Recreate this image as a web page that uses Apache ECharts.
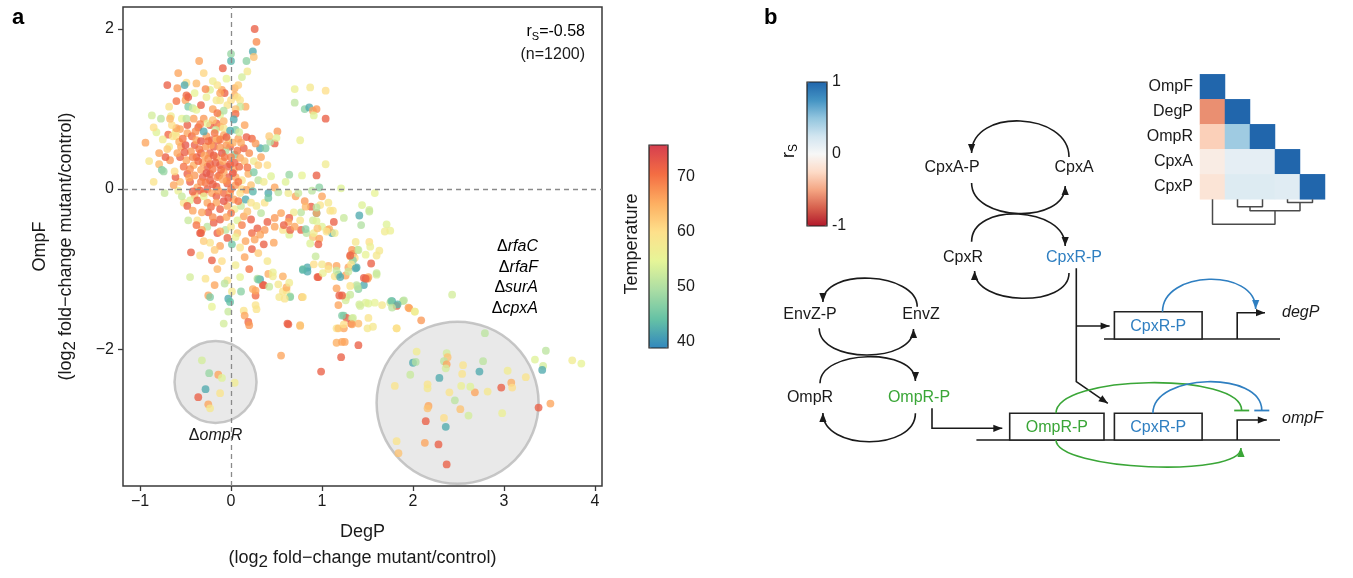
<!DOCTYPE html>
<html>
<head>
<meta charset="utf-8">
<script src="https://cdn.jsdelivr.net/npm/echarts@6/dist/echarts.min.js"></script>
<style>
  html, body { margin: 0; padding: 0; background: #fff; }
  #chart { width: 1353px; height: 578px; }
</style>
</head>
<body>
<div id="chart"></div>
<script>
// ---- panel a: DegP vs OmpF, [degP, ompF, temperature] ----
const upperPts = [
  [0.26,2.0,72],[0.28,1.84,68],[0.24,1.72,42],[0.25,1.65,63],[0.0,1.69,48],[0.0,1.6,43],[0.17,1.6,47],[-0.35,1.6,66],
  [-0.09,1.51,72],[0.18,1.47,58],[-0.58,1.45,66],[0.12,1.40,53],[-0.70,1.30,72],[-0.59,1.26,67],[-0.49,1.33,60],
  [-0.38,1.32,64],[-0.51,1.30,42],[-0.23,1.24,54],[-0.10,1.24,66],[-0.07,1.20,72],[0.04,1.17,65],[-0.12,1.11,58],
  [0.0,1.11,60],[-0.49,1.17,71],[-0.50,1.11,66],[-0.47,1.03,46],[-0.42,1.01,52],[-0.38,0.99,55],[0.10,1.11,59],
  [0.16,1.03,65],[-0.68,1.03,59],[-0.16,1.11,58],[-0.27,1.15,56],[-0.47,1.15,72],[-0.15,1.30,59],[-0.12,1.20,66],
  [0.04,1.26,65],[0.07,1.15,59],[0.1,1.03,52],[-0.04,1.05,59],[-0.12,0.93,54],[0.70,1.25,56],[0.87,1.27,58],
  [1.04,1.23,60],[0.70,1.08,51],[0.81,1.0,47],[0.86,1.02,42],[0.90,0.98,66],[0.94,1.0,67],[0.91,0.92,54],[1.04,0.88,72],
  [-0.30,1.45,61],[-0.20,1.35,57],[-0.05,1.38,55],[0.08,1.30,62],[-0.28,1.25,68],[-0.40,1.20,55],[-0.60,1.10,70],
  [-0.33,1.05,72],[-0.20,1.00,66],[0.05,1.00,63],[-0.08,0.98,50]
];
const corePts = [
  [-0.87,0.92,53],[-0.77,0.88,51],[-0.66,0.91,57],[-0.54,0.88,55],[-0.41,0.88,66],[-0.30,0.88,67],[0.05,0.94,71],
  [0.03,0.87,42],[-0.23,0.80,72],[-0.16,0.82,71],[-0.12,0.78,66],[-0.08,0.76,58],[0.05,0.74,46],[-0.48,0.80,72],
  [-0.36,0.77,72],[-0.56,0.75,66],[-0.69,0.68,71],[-0.60,0.66,60],[0.51,0.72,67],[0.48,0.57,72],[0.43,0.59,50],
  [0.32,0.51,42],[0.38,0.51,46],[0.23,0.63,71],[0.27,0.57,67],[0.50,0.64,54],[0.76,0.61,56],
  [-0.94,0.58,66],[-0.85,0.09,59],[-0.73,-0.05,52],[-0.79,0.31,64],[-0.76,0.24,46],[-0.74,0.22,48],
  [-0.40,0.55,72],[-0.28,0.53,67],[-0.33,0.45,72],[-0.23,0.45,71],[-0.16,0.40,66],[-0.14,0.61,72],[-0.01,0.53,72],
  [0.14,0.51,72],[-0.06,0.48,50],[0.04,0.43,46],[-0.12,0.30,72],[-0.04,0.28,72],[0.03,0.24,66],[0.09,0.28,71],
  [-0.26,0.28,72],[-0.33,0.24,66],[-0.41,0.30,65],[-0.49,0.36,66],[-0.56,0.40,72],[-0.59,0.45,66],[-0.67,0.36,67],
  [-0.72,0.40,72],[-0.45,0.09,72],[-0.37,0.02,66],[-0.23,0.11,72],[-0.16,0.03,72],[-0.04,0.07,72],[0.05,0.05,67],
  [-0.08,-0.05,71],[-0.01,-0.05,66],[0.12,0.11,59],[0.19,0.19,65],[0.25,0.21,46],[0.30,0.11,51],[0.36,0.09,57],
  [0.44,0.16,54],[0.48,0.02,66],[0.41,-0.05,42],[0.52,-0.04,51],[0.60,0.09,54],[0.63,-0.05,57],
  [-0.48,0.70,66],[-0.43,0.66,71],[-0.38,0.61,66],[-0.27,0.66,67],[-0.21,0.61,72],[-0.16,0.63,63],[-0.08,0.67,66],
  [-0.03,0.61,59],[0.08,0.63,66],[0.17,0.65,72],[-0.19,0.53,72],[-0.12,0.52,67],[-0.31,0.33,66],[-0.23,0.31,72],
  [-0.17,0.33,72],[-0.09,0.35,66],[-0.01,0.31,72],[0.04,0.33,72],[0.10,0.39,66],[-0.38,0.40,72],[-0.29,0.42,66],
  [-0.48,0.19,72],[-0.40,0.17,67],[-0.31,0.15,72],[-0.23,0.19,72],[-0.13,0.17,72],[-0.08,0.21,66],[-0.02,0.15,72],
  [0.05,0.15,66],[-0.56,0.09,63],[-0.61,0.15,72],[-0.34,-0.02,72],[-0.26,0.0,72],[-0.21,-0.05,66],[-0.16,-0.09,72],
  [0.03,-0.13,66],[-0.03,-0.11,72],
  [-0.26,0.82,55],[-0.55,0.53,66],[-0.64,0.66,59],[-0.68,0.53,57],[-0.57,0.59,65],[-0.17,0.74,52],[-0.01,0.73,42],
  [0.09,0.71,53],[-0.30,0.72,42],[-0.61,0.71,58],[-0.49,0.88,51],[-0.60,0.76,66],[-0.75,0.62,57],[-0.82,0.71,54],
  [-0.20,0.25,70],[-0.10,0.45,73],[0.00,0.40,69],[-0.25,0.38,68],[-0.35,0.50,70],[-0.15,0.15,69],[-0.05,0.55,67],
  [0.02,0.20,73],[-0.28,0.08,70],[-0.42,0.40,69],[-0.18,0.70,70],[-0.50,0.55,73],[-0.05,0.10,68],[0.07,0.48,70],
  [-0.33,0.60,73],[-0.45,0.25,68],[-0.12,0.62,69],[-0.22,0.55,66],[0.00,0.00,70],[-0.52,0.28,70],[0.15,0.35,64],
  [0.20,0.45,68],[-0.62,0.22,60],[-0.70,0.50,62],[-0.40,-0.08,63],[0.12,0.00,61],[-0.08,0.85,64],[0.25,0.35,57],
  [0.30,0.30,62],[-0.58,-0.02,56],[-0.65,0.80,60],
  [-0.36,0.35,71],[-0.19,0.42,72],[-0.07,0.40,70],[-0.27,0.20,73],[-0.11,0.24,71],[-0.33,0.09,69],[-0.20,0.06,72],
  [-0.09,0.12,66],[0.08,0.09,70],[-0.44,0.47,67],[-0.25,0.60,71],[-0.05,0.65,72],[0.11,0.58,66],[-0.39,0.72,68],
  [-0.53,0.63,70],[-0.46,0.14,66],[-0.14,-0.02,67],[-0.30,-0.05,71],[0.02,0.58,65],[-0.20,0.86,63],[-0.51,0.46,72],
  [0.18,0.27,70],[0.22,0.05,63],[-0.63,0.05,66],[-0.42,-0.03,72],[-0.34,0.81,69],[0.15,0.80,66],[-0.15,0.95,70],
  [0.33,0.40,66],[0.40,0.30,60],[-0.67,0.88,64],[-0.79,0.45,66],[-0.85,0.77,60],[-0.90,0.35,58],[0.42,0.66,62]
];
const lowerPts = [
  [-0.45,-0.14,54],[-0.52,-0.17,59],[-0.54,-0.09,52],[-0.37,-0.14,72],[-0.26,-0.17,66],[-0.30,-0.09,55],[-0.16,-0.17,66],
  [-0.12,-0.25,72],[-0.04,-0.21,66],[0.04,-0.25,57],[0.11,-0.21,52],[0.16,-0.13,42],[0.22,-0.17,59],[0.14,-0.34,66],
  [0.22,-0.38,72],[0.33,-0.30,51],[0.28,-0.21,58],[0.37,-0.17,59],[0.41,-0.11,45],[0.10,-0.05,60],[0.17,-0.01,66],
  [0.24,-0.03,43],[-0.48,-0.21,72],[-0.42,-0.27,66],[-0.47,-0.39,52],[-0.37,-0.39,59],[-0.26,-0.47,51],[-0.32,-0.51,66],
  [-0.15,-0.55,72],[-0.06,-0.51,51],[0.0,-0.47,58],[0.07,-0.39,54],[0.07,-0.55,63],[-0.04,-0.61,72],[-0.12,-0.53,66],
  [-0.19,-0.42,72],[-0.12,-0.38,72],[-0.25,-0.29,72],[-0.32,-0.29,66],[-0.34,-0.55,72],[-0.23,-0.67,59],[-0.12,-0.71,66],
  [0.01,-0.69,45],[0.10,-0.73,59],[0.16,-0.65,66],[0.23,-0.75,72],[0.36,-0.69,72],[0.47,-0.67,66],[0.40,-0.41,72],
  [0.29,-0.49,72],[0.23,-0.55,71],[0.32,-0.57,66],[0.37,-0.51,67],[0.48,-0.47,66],
  [-0.44,-0.79,72],[-0.34,-0.83,59],[-0.45,-1.10,53],[-0.33,-0.55,72],[-0.28,-1.12,59],[-0.21,-0.89,72],[-0.18,-1.2,66],
  [-0.25,-1.33,66],[-0.23,-1.35,46],[-0.21,-1.47,55],[-0.08,-1.68,53],[-0.04,-1.14,59],[-0.07,-1.18,51],[-0.03,-1.37,42],
  [-0.01,-1.41,44],[-0.03,-1.53,52],[0.01,-1.28,58],[0.11,-1.28,47],[0.14,-1.52,59],[0.15,-1.58,66],[0.19,-1.66,71],
  [0.20,-1.70,67],[0.28,-1.50,59],[0.27,-1.33,71],[0.24,-1.25,65],[0.29,-1.12,51],[0.32,-1.13,42],[0.35,-1.20,72],
  [0.41,-1.06,65],[0.46,-1.04,56],[0.53,-1.35,58],[0.61,-1.27,59],[0.65,-1.34,50],[0.78,-1.35,65],[0.63,-1.69,72],
  [0.76,-1.71,63],[0.55,-2.08,66],[0.99,-2.28,72],
  [-0.10,-0.90,60],[0.05,-0.95,57],[0.15,-0.85,66],[0.30,-0.80,62],[-0.15,-1.00,64],[0.10,-1.10,55],[0.20,-1.00,70],
  [0.40,-0.90,58],[-0.30,-0.65,62],[0.00,-0.30,70],[-0.20,-0.35,68],[0.12,-0.45,69],[-0.08,-0.15,73],[0.05,-0.60,56],
  [-0.22,-0.22,71],[-0.05,-0.35,66],[0.08,-0.15,70],[0.18,-0.28,63],[-0.38,-0.45,70],[0.26,-0.63,66],[-0.18,-0.76,62]
];
const tailPts = [
  [1.04,0.31,57],[0.94,0.17,72],[0.78,0.17,55],[0.64,0.18,48],[0.97,0.02,47],[1.21,0.01,54],[1.58,-0.05,55],[0.89,-0.02,51],
  [1.41,-0.33,42],[1.44,-0.20,54],[1.52,-0.26,53],[1.43,-0.45,50],[1.71,-0.44,54],[1.75,-0.52,56],[1.69,-0.53,57],
  [1.52,-0.66,60],[1.37,-0.66,58],[1.34,-0.81,72],[1.39,-0.76,51],[0.71,-0.09,66],[0.74,-0.05,52],[0.81,-0.15,67],
  [0.88,-0.22,72],[0.94,-0.30,42],[1.00,-0.09,66],[1.07,-0.17,58],[1.12,-0.27,59],[0.77,-0.29,51],[0.69,-0.29,57],
  [0.64,-0.36,72],[0.55,-0.30,66],[0.48,-0.36,67],[0.57,-0.51,59],[0.64,-0.57,54],[0.77,-0.51,72],[0.83,-0.55,51],
  [0.90,-0.60,63],[0.97,-0.62,66],[1.06,-0.51,66],[1.11,-0.55,42],[1.00,-0.47,54],[1.52,-0.28,52],[1.53,-0.72,56],
  [1.63,-0.77,58],[1.60,-0.83,58],[1.33,-0.76,67],[1.31,-0.84,65],[1.36,-0.86,60],[1.34,-0.89,47],[1.54,-0.93,72],
  [1.38,-0.98,42],[1.29,-0.98,66],[1.16,-0.96,66],[1.18,-1.07,42],[1.14,-1.09,59],[1.26,-1.08,66],[1.29,-1.03,52],
  [1.46,-1.11,72],[1.50,-1.12,67],[1.46,-1.20,42],[1.38,-1.20,51],[1.40,-1.25,47],[1.60,-1.07,53],[1.16,-1.24,66],
  [1.19,-1.33,72],[1.27,-1.35,59],[1.26,-1.39,53],[1.18,-1.45,66],[1.24,-1.58,46],[1.27,-1.61,72],[1.33,-1.62,51],
  [1.32,-1.68,72],[1.40,-1.68,64],[1.16,-1.74,59],[1.24,-1.74,66],[1.50,-1.74,58],[1.16,-1.92,65],[1.22,-1.91,66],
  [1.40,-1.95,72],[1.41,-1.44,53],[1.48,-1.42,54],[1.58,-1.42,55],[1.75,-1.42,53],[1.77,-1.40,42],[1.82,-1.46,72],
  [1.89,-1.40,51],[1.96,-1.49,66],[2.02,-1.53,56],[2.09,-1.64,67],[1.82,-1.74,58],
  [0.96,-1.10,72],[0.84,-0.98,42],[0.79,-1.0,46],[0.93,-0.84,52],[1.07,-0.96,64],[1.0,-0.94,58],[0.62,-1.68,72],
  [0.76,-1.70,63],[0.65,-1.35,47],[0.59,-1.37,59],[0.79,-1.35,59],[0.57,-1.28,59],[0.61,-1.23,65],[0.52,-1.19,58],
  [0.46,-1.09,57],[0.57,-1.09,65],[0.64,-1.17,57],[0.36,-1.20,72],[0.30,-1.13,46],[0.27,-1.45,59],[0.27,-1.27,66],
  [0.42,-1.22,52],[0.96,-0.69,72],[1.13,-0.41,72],[1.08,-0.50,65],[1.14,-0.55,57],[1.05,-0.53,59],[0.91,-0.55,57],
  [0.87,-0.68,54],[0.95,-0.49,63],[0.82,-0.50,47],[0.90,-0.39,53],[0.94,-0.30,66],[0.98,-0.20,59],[0.82,-0.22,64],
  [0.94,-0.23,51],[1.09,-0.27,59],[0.94,-0.40,54],[1.24,-0.36,52],[0.65,-0.51,72],[0.70,-0.47,66],[0.76,-0.39,59],
  [0.63,-0.41,66],[0.58,-0.45,72],[0.95,-1.10,72],[0.84,-1.03,42],[0.79,-1.01,43],[0.91,-0.94,60],[1.01,-1.05,56],
  [1.07,-1.0,59],[1.16,-1.02,52],[1.20,-1.10,42],[1.31,-0.83,72],[1.32,-0.94,59],[1.37,-0.99,42],[1.40,-0.76,52],
  [1.48,-0.82,55],[1.60,-1.05,52],[1.51,-1.10,66],[1.48,-1.12,72],[1.39,-1.22,51],[1.31,-1.21,59],[1.22,-1.33,72],
  [1.31,-1.32,52],[1.42,-1.46,53],[1.51,-1.43,54],[1.22,-1.58,46],[1.34,-1.61,53],[1.33,-1.69,66],[1.51,-1.61,59],
  [1.56,-1.72,58],[1.18,-1.74,63],[1.24,-1.69,60],[1.25,-1.91,66],[1.21,-2.10,72],[1.76,-1.40,46],[1.90,-1.39,51],
  [1.83,-1.44,43],[1.77,-1.48,51],[1.95,-1.48,66],[2.02,-1.53,57],[1.66,-1.45,58],[1.82,-1.74,60],[2.43,-1.32,53]
];
const ompRPts = [
  [-0.32,-2.14,53],[-0.24,-2.30,48],[-0.14,-2.32,66],[-0.10,-2.36,54],[0.04,-2.42,57],[-0.28,-2.50,42],
  [-0.12,-2.55,59],[-0.36,-2.60,72],[-0.25,-2.69,66],[-0.23,-2.74,58]
];
const cpxPts = [
  [2.79,-1.80,51],[2.04,-2.03,57],[2.0,-2.17,42],[2.03,-2.16,50],[2.37,-2.05,53],[2.38,-2.10,63],[2.34,-2.15,51],
  [2.37,-2.19,66],[2.36,-2.24,53],[2.29,-2.36,42],[1.97,-2.32,52],[2.55,-2.20,59],[2.54,-2.31,59],[2.77,-2.15,51],
  [2.73,-2.28,42],[3.04,-2.27,57],[3.24,-2.35,59],[3.08,-2.42,65],[3.09,-2.48,60],[2.97,-2.48,72],[2.82,-2.53,58],
  [2.68,-2.54,66],[2.63,-2.47,54],[2.53,-2.46,56],[2.40,-2.54,59],[2.46,-2.64,51],[2.52,-2.75,63],[2.61,-2.83,53],
  [2.98,-2.80,56],[3.38,-2.73,72],[3.51,-2.68,66],[3.34,-2.13,54],[3.46,-2.02,51],[3.43,-2.21,53],[3.42,-2.26,42],
  [3.75,-2.14,57],[3.85,-2.18,55],[1.80,-2.46,59],[2.17,-2.71,66],[2.16,-2.74,63],[2.16,-2.44,59],[2.16,-2.49,58],
  [2.14,-2.90,72],[2.34,-2.86,60],[2.36,-2.97,42],[1.82,-3.15,59],[1.84,-3.30,63],[2.13,-3.17,66],[2.28,-3.19,72],
  [2.37,-3.44,72]
];
// mutant groups highlighted by grey discs: [centre degP, centre ompF]
const ompRGroup = [-0.17, -2.41];
const cpxGroup = [2.49, -2.67];

const xTicks = [-1, 0, 1, 2, 3, 4];
const yTicks = [-2, 0, 2];
const tempTicks = [40, 50, 60, 70];
const rsTicks = [-1, 0, 1];

// ---- panel b: correlation heatmap + clustering ----
const genes = ['OmpF', 'DegP', 'OmpR', 'CpxA', 'CpxP'];
// [column, row, r_S] lower triangle
const corr = [
  [0,0,1],
  [0,1,-0.58],[1,1,1],
  [0,2,-0.3],[1,2,0.45],[2,2,1],
  [0,3,-0.1],[1,3,0.12],[2,3,0.12],[3,3,1],
  [0,4,-0.17],[1,4,0.17],[2,4,0.17],[3,4,0.15],[4,4,1]
];
// merges: [nodeA, nodeB, height]; leaves 0..4, new nodes 5,6,...
const dendroMerges = [[3,4,3.2],[1,2,7.4],[6,5,11.4],[0,7,25]];

const spectral = ['#3288bd','#66c2a5','#abdda4','#e6f598','#fee08b','#fdae61','#f46d43','#d53e4f'];
const rdbu = ['#b2182b','#d6604d','#f4a582','#fddbc7','#f7f7f7','#d1e5f0','#92c5de','#4393c3','#2166ac'];

const FONT = '"Liberation Sans", Arial, sans-serif';
const INK = '#1a1a1a';
const BLUE = '#2f7fc1';
const GREEN = '#3aa637';
const minus = v => String(v).replace('-', '\u2212');

// dendrogram segments
const nodes = genes.map((g, i) => [i + 0.5, 0]);
const dendroSeries = dendroMerges.map(([a, b, h]) => {
  const A = nodes[a], B = nodes[b];
  nodes.push([(A[0] + B[0]) / 2, h]);
  return {
    type: 'line', xAxisIndex: 3, yAxisIndex: 4, silent: true, showSymbol: false,
    lineStyle: { color: '#4a4a4a', width: 1.5 },
    data: [[A[0], A[1]], [A[0], h], [B[0], h], [B[0], B[1]]]
  };
});

// ---- diagram helpers ----
function arrowHead(x, y, dx, dy, color) {
  const len = Math.hypot(dx, dy), ux = dx / len, uy = dy / len;
  const L = 9, W = 3.6, bx = x - ux * L, by = y - uy * L;
  return { type: 'polygon', silent: true,
    shape: { points: [[x, y], [bx - uy * W, by + ux * W], [bx + uy * W, by - ux * W]] },
    style: { fill: color } };
}
function arc(x1, y1, x2, y2, apexY, color, mark) {
  const d = (apexY - (y1 + y2) / 2) / 0.75;
  const els = [{ type: 'bezierCurve', silent: true,
    shape: { x1, y1, x2, y2, cpx1: x1, cpy1: y1 + d, cpx2: x2, cpy2: y2 + d },
    style: { stroke: color, lineWidth: 1.6, fill: 'none' } }];
  if (mark === 'arrow') els.push(arrowHead(x2, y2, 0, -d, color));
  if (mark === 'bar') els.push({ type: 'line', silent: true,
    shape: { x1: x2 - 7.5, y1: y2, x2: x2 + 7.5, y2: y2 }, style: { stroke: color, lineWidth: 1.8 } });
  return els;
}
function path(points, color, arrow) {
  const els = [{ type: 'polyline', silent: true, shape: { points },
    style: { stroke: color, lineWidth: 1.6, fill: 'none' } }];
  if (arrow) {
    const p = points[points.length - 1], q = points[points.length - 2];
    els.push(arrowHead(p[0], p[1], p[0] - q[0], p[1] - q[1], color));
  }
  return els;
}
function txt(x, y, text, color, extra) {
  return { type: 'text', x, y, silent: true,
    style: Object.assign({ text, fill: color || INK, font: '16px ' + FONT, align: 'center', verticalAlign: 'middle' }, extra || {}) };
}
function box(x, y, w, h, label, color) {
  return [
    { type: 'rect', silent: true, shape: { x, y, width: w, height: h }, style: { fill: '#fff', stroke: '#222', lineWidth: 1.6 } },
    txt(x + w / 2, y + h / 2 + 1, label, color)
  ];
}
const subRich = {
  n: { fontSize: 16, fontFamily: FONT, color: INK },
  s: { fontSize: 11, fontFamily: FONT, color: INK, padding: [9, 0, 0, 0] }
};
const italicRich = {
  d: { fontSize: 16, fontFamily: FONT, color: INK },
  i: { fontSize: 16, fontFamily: FONT, color: INK, fontStyle: 'italic' }
};

const graphics = [].concat(
  // panel letters
  txt(12, 18, 'a', '#000', { font: 'bold 22px ' + FONT, align: 'left' }),
  txt(764, 18, 'b', '#000', { font: 'bold 22px ' + FONT, align: 'left' }),
  // panel a annotations
  { type: 'text', x: 585, y: 32, silent: true,
    style: { text: '{n|r}{s|S}{n|=-0.58}', rich: subRich, align: 'right', verticalAlign: 'middle' } },
  txt(585, 55, '(n=1200)', INK, { align: 'right' }),
  ['rfaC', 'rfaF', 'surA', 'cpxA'].map((g, i) => ({ type: 'text', x: 538, y: 247 + i * 20.4, silent: true,
    style: { text: '{d|\u0394}{i|' + g + '}', rich: italicRich, align: 'right', verticalAlign: 'middle' } })),
  // colour bar titles (rotated)
  Object.assign(txt(632, 244, 'Temperature', INK, { font: '18px ' + FONT }), { rotation: Math.PI / 2 }),
  { type: 'text', x: 789, y: 151, silent: true, rotation: Math.PI / 2,
    style: { text: '{n|r}{s|S}', rich: { n: { fontSize: 18, fontFamily: FONT, color: INK },
      s: { fontSize: 12, fontFamily: FONT, color: INK, padding: [10, 0, 0, 0] } }, align: 'center', verticalAlign: 'middle' } },
  // Cpx two-component cycle
  arc(1069, 157, 971.6, 153, 121, INK, 'arrow'),
  arc(971.6, 183, 1065.2, 186, 213.5, INK, 'arrow'),
  arc(971.6, 241.7, 1065.2, 246, 214, INK, 'arrow'),
  arc(1069, 273, 974.6, 271, 298.3, INK, 'arrow'),
  txt(952, 168, 'CpxA-P'), txt(1074, 168, 'CpxA'),
  txt(963, 258, 'CpxR'), txt(1074, 258, 'CpxR-P', BLUE),
  // EnvZ/OmpR cycle
  arc(917.2, 306.7, 822.9, 302, 278.3, INK, 'arrow'),
  arc(819.2, 328.3, 913.5, 329, 355, INK, 'arrow'),
  arc(820, 383.3, 915.4, 381, 356.7, INK, 'arrow'),
  arc(915.4, 413.3, 822.9, 413, 441.7, INK, 'arrow'),
  txt(810, 315, 'EnvZ-P'), txt(921, 315, 'EnvZ'),
  txt(810, 398, 'OmpR'), txt(919, 398, 'OmpR-P', GREEN),
  // CpxR-P regulation lines
  path([[1076.3, 268.3], [1076.3, 381.7], [1107.8, 403.3]], INK, true),
  path([[1076.3, 326], [1109.6, 326]], INK, true),
  path([[932, 408.3], [932, 428.3], [1002.3, 428.3]], INK, true),
  // degP promoter
  path([[1104, 339], [1280, 339]], INK, false),
  box(1114.4, 311.7, 87.7, 27.3, 'CpxR-P', BLUE),
  path([[1237.2, 339], [1237.2, 312.7], [1265, 312.7]], INK, true),
  txt(1282, 313, 'degP', INK, { align: 'left', font: 'italic 16px ' + FONT }),
  arc(1162.5, 311.7, 1255.7, 309, 279.3, BLUE, 'arrow'),
  // ompF promoter
  path([[976.4, 440], [1280, 440]], INK, false),
  box(1009.7, 413.3, 94.3, 26.7, 'OmpR-P', GREEN),
  box(1114.4, 413.3, 87.7, 26.7, 'CpxR-P', BLUE),
  path([[1237.2, 440], [1237.2, 420], [1266.8, 420]], INK, true),
  txt(1282, 419, 'ompF', INK, { align: 'left', font: 'italic 16px ' + FONT }),
  arc(1056, 413.3, 1241.7, 410.5, 382.7, GREEN, 'bar'),
  arc(1152.9, 413.3, 1261.8, 410.5, 381.7, BLUE, 'bar'),
  arc(1056, 440, 1241, 448, 466.7, GREEN, 'arrow')
);

const option = {
  backgroundColor: '#fff',
  animation: false,
  textStyle: { fontFamily: FONT, color: INK },
  grid: [
    { left: 123, top: 7, width: 479, height: 479, show: true, borderColor: '#3a3a3a', borderWidth: 1.5, z: 5, backgroundColor: 'transparent' },
    { left: 1200, top: 74.3, width: 125, height: 125 },
    { left: 649, top: 145, width: 19, height: 203, show: true, borderColor: '#222', borderWidth: 1.2, z: 6, backgroundColor: 'transparent' },
    { left: 1200, top: 199.3, width: 125, height: 27 },
    { left: 807, top: 82, width: 20, height: 144, show: true, borderColor: '#222', borderWidth: 1.2, z: 6, backgroundColor: 'transparent' }
  ],
  xAxis: [
    {
      gridIndex: 0, type: 'value', min: -1.187, max: 4.077,
      axisLine: { show: false, onZero: false },
      axisTick: { customValues: xTicks, length: 5, lineStyle: { color: '#3a3a3a', width: 1.3 } },
      axisLabel: { customValues: xTicks, formatter: minus, fontSize: 16, color: INK, margin: 8 },
      splitLine: { show: false },
      name: 'DegP\n{a|(log}{s|2}{a| fold\u2212change mutant/control)}',
      nameLocation: 'middle', nameGap: 33,
      nameTextStyle: { fontSize: 18, lineHeight: 26, color: INK,
        rich: { a: { fontSize: 18, color: INK }, s: { fontSize: 17, color: INK, padding: [9, 0, 0, 0] } } }
    },
    { gridIndex: 1, type: 'category', data: genes, show: false },
    { gridIndex: 2, type: 'value', show: false },
    { gridIndex: 3, type: 'value', min: 0, max: 5, show: false },
    { gridIndex: 4, type: 'value', show: false }
  ],
  yAxis: [
    {
      gridIndex: 0, type: 'value', min: -3.71, max: 2.275,
      axisLine: { show: false, onZero: false },
      axisTick: { customValues: yTicks, length: 5, lineStyle: { color: '#3a3a3a', width: 1.3 } },
      axisLabel: { customValues: yTicks, formatter: minus, fontSize: 16, color: INK, margin: 9 },
      splitLine: { show: false },
      name: 'OmpF\n{a|(log}{s|2}{a| fold\u2212change mutant/control)}',
      nameLocation: 'middle', nameRotate: 90, nameGap: 44,
      nameTextStyle: { fontSize: 18, lineHeight: 26, color: INK,
        rich: { a: { fontSize: 18, color: INK }, s: { fontSize: 17, color: INK, padding: [9, 0, 0, 0] } } }
    },
    {
      gridIndex: 1, type: 'category', data: genes, inverse: true,
      axisLine: { show: false }, axisTick: { show: false },
      axisLabel: { fontSize: 16, color: INK, margin: 7 }
    },
    {
      gridIndex: 2, type: 'value', position: 'right', min: 38.8, max: 75.8,
      axisLine: { show: false, onZero: false }, splitLine: { show: false },
      axisTick: { customValues: tempTicks, inside: true, length: 4, lineStyle: { color: '#fff', width: 1.5 } },
      axisLabel: { customValues: tempTicks, fontSize: 16, color: INK, margin: 9 }
    },
    {
      gridIndex: 2, type: 'value', position: 'left', min: 38.8, max: 75.8,
      axisLine: { show: false, onZero: false }, splitLine: { show: false }, axisLabel: { show: false },
      axisTick: { customValues: tempTicks, inside: true, length: 4, lineStyle: { color: '#fff', width: 1.5 } }
    },
    { gridIndex: 3, type: 'value', min: 0, max: 27, inverse: true, show: false },
    {
      gridIndex: 4, type: 'value', position: 'right', min: -1, max: 1,
      axisLine: { show: false, onZero: false }, splitLine: { show: false }, axisTick: { show: false },
      axisLabel: { customValues: rsTicks, fontSize: 16, color: INK, margin: 5 }
    }
  ],
  visualMap: [
    {
      type: 'continuous', seriesIndex: 0, dimension: 2, min: 38.8, max: 75.8,
      inRange: { color: spectral }, calculable: false, hoverLink: false, text: null, padding: 0,
      left: 649, top: 145, itemWidth: 19, itemHeight: 203
    },
    {
      type: 'continuous', seriesIndex: 3, dimension: 2, min: -1, max: 1,
      inRange: { color: rdbu }, calculable: false, hoverLink: false, text: null, padding: 0,
      left: 807, top: 82, itemWidth: 20, itemHeight: 144
    }
  ],
  series: [
    {
      type: 'scatter', xAxisIndex: 0, yAxisIndex: 0, z: 4, silent: true,
      symbolSize: 7.8, itemStyle: { opacity: 0.78 },
      data: [].concat(upperPts, corePts, lowerPts, tailPts, ompRPts, cpxPts)
    },
    {
      type: 'scatter', xAxisIndex: 0, yAxisIndex: 0, z: 3, silent: true,
      itemStyle: { color: '#e4e4e4', borderColor: '#b9b9b9', borderWidth: 2.5 },
      data: [
        { value: ompRGroup, symbolSize: 82,
          label: { show: true, position: 'bottom', distance: 3, color: INK, opacity: 1,
            formatter: '{d|\u0394}{i|ompR}', rich: italicRich } },
        { value: cpxGroup, symbolSize: 162 }
      ]
    },
    {
      type: 'scatter', xAxisIndex: 0, yAxisIndex: 0, z: 2, data: [],
      markLine: {
        silent: true, symbol: 'none', animation: false, label: { show: false },
        lineStyle: { type: [5, 4], color: '#8a8a8a', width: 1.3 },
        data: [{ xAxis: 0 }, { yAxis: 0 }]
      }
    },
    {
      type: 'heatmap', xAxisIndex: 1, yAxisIndex: 1, silent: true,
      emphasis: { disabled: true }, data: corr
    }
  ].concat(dendroSeries),
  graphic: graphics
};

const chart = echarts.init(document.getElementById('chart'), null, { renderer: 'canvas' });
chart.setOption(option);
window.addEventListener('resize', () => chart.resize());
</script>
</body>
</html>
